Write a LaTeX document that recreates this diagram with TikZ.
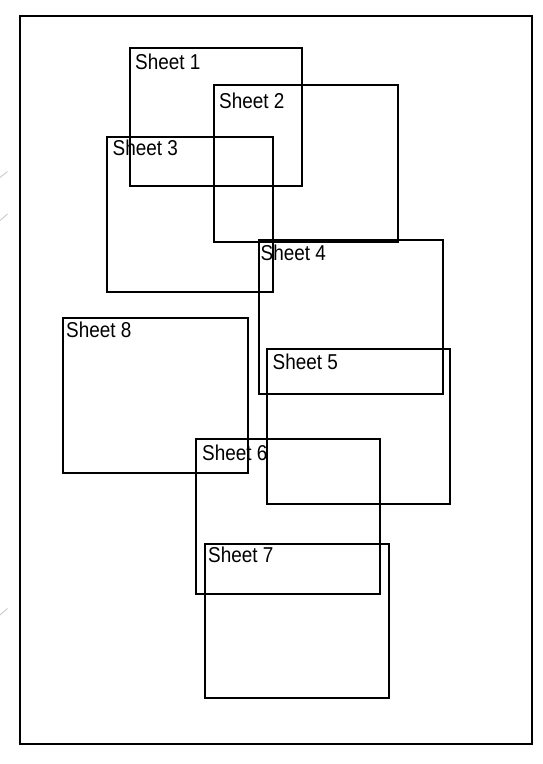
\documentclass[tikz,border=0pt]{standalone}
\usepackage{fontspec}
\newfontfamily\lblfont[FakeStretch=0.88]{Liberation Sans}
\begin{document}
\begin{tikzpicture}[x=1pt,y=-1pt,
  sheet/.style={draw=black,line width=2.4pt,line join=miter,inner sep=0pt,outer sep=0pt,anchor=north west},
  lbl/.style={font=\lblfont\fontsize{21.5}{23}\selectfont,inner sep=0pt,anchor=base west,text=black},
  faintline/.style={draw=gray!45,line width=0.8pt}]
\useasboundingbox (0,0) rectangle (543,764);
\node[sheet,minimum width=512pt,minimum height=728pt] (page) at (20,16) {};
\newcommand{\sheetbox}[5]{%
  \node[sheet,minimum width=#3pt-#1pt,minimum height=#4pt-#2pt] (#5) at (#1,#2) {};}
\sheetbox{130}{48}{302}{186}{s1}
\sheetbox{214}{85}{398}{242}{s2}
\sheetbox{107}{137}{273}{292}{s3}
\sheetbox{259}{240}{443}{394}{s4}
\sheetbox{63}{318}{248}{473}{s8}
\sheetbox{267}{349}{450}{504}{s5}
\sheetbox{196}{439}{380}{594}{s6}
\sheetbox{205}{544}{389}{698}{s7}
\node[lbl] (t1) at (135,69.5) {Sheet 1};
\node[lbl] (t2) at (219,108.5) {Sheet 2};
\node[lbl] (t3) at (112.5,155) {Sheet 3};
\node[lbl] (t4) at (260.5,260.5) {Sheet 4};
\node[lbl] (t8) at (66,337.5) {Sheet 8};
\node[lbl] (t5) at (272.5,369.5) {Sheet 5};
\node[lbl] (t6) at (202,460) {Sheet 6};
\node[lbl] (t7) at (208,562.5) {Sheet 7};
\coordinate (m1a) at (0,177.5); \coordinate (m1b) at (7.5,171.5);
\coordinate (m2a) at (0,220.5); \coordinate (m2b) at (7.5,214);
\coordinate (m3a) at (0,615); \coordinate (m3b) at (7.5,608.5);
\draw[faintline] (m1a) -- (m1b);
\draw[faintline] (m2a) -- (m2b);
\draw[faintline] (m3a) -- (m3b);
\end{tikzpicture}
\end{document}
